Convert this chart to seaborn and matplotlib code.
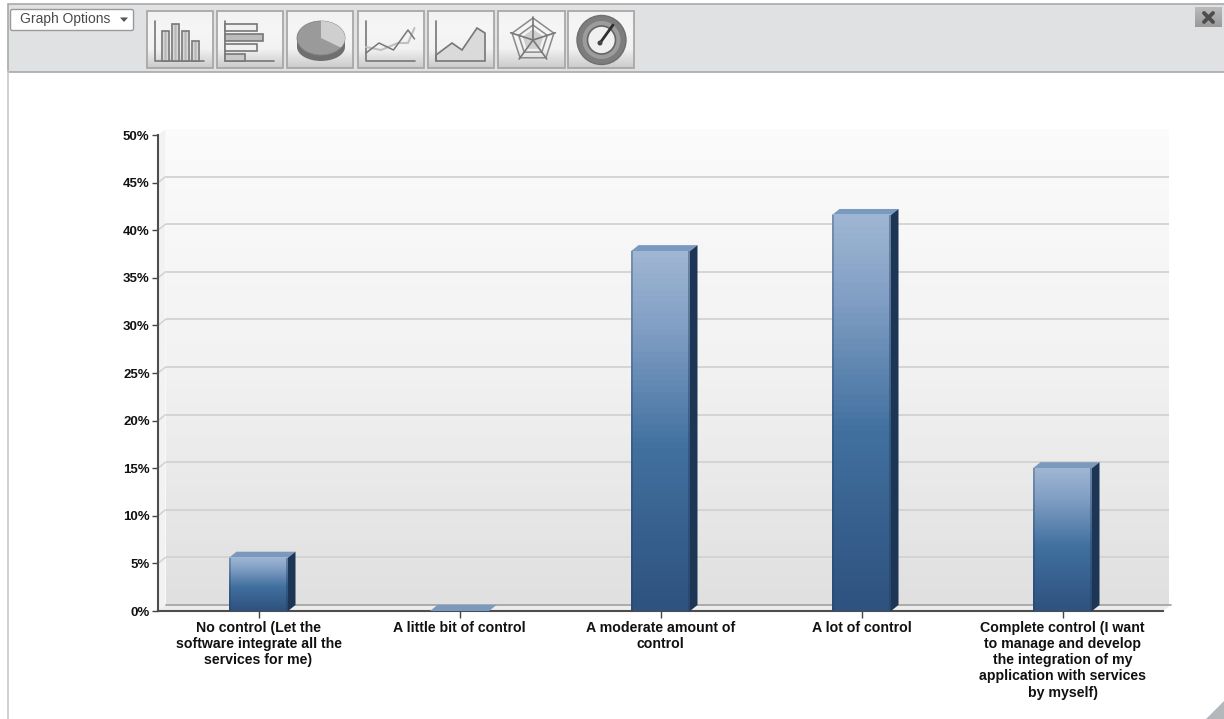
import numpy as np
import pandas as pd
import seaborn as sns
import matplotlib
matplotlib.use("Agg")
import matplotlib.pyplot as plt
from matplotlib.colors import LinearSegmentedColormap
from matplotlib.patches import Polygon, Rectangle, Ellipse, Circle, FancyBboxPatch
from matplotlib.transforms import IdentityTransform

categories = [
    "No control (Let the\nsoftware integrate all the\nservices for me)",
    "A little bit of control",
    "A moderate amount of\ncontrol",
    "A lot of control",
    "Complete control (I want\nto manage and develop\nthe integration of my\napplication with services\nby myself)",
]
percentages = [5.6, 0.0, 37.8, 41.6, 15.0]
y_ticks = [0, 5, 10, 15, 20, 25, 30, 35, 40, 45, 50]

W, H = 1224, 719
DEPTH_X, DEPTH_Y = 7.5, 6

sns.set_theme(style="white")
plt.rcParams["font.family"] = ["Liberation Sans", "DejaVu Sans"]

fig = plt.figure(figsize=(W / 100, H / 100), dpi=100, facecolor="white")


def px_axes(left, top, right, bottom, **kw):
    return fig.add_axes([left / W, 1 - bottom / H, (right - left) / W, (bottom - top) / H], **kw)


# Window chrome, laid out in pixel units
chrome = fig.add_axes([0, 0, 1, 1], zorder=0)
chrome.axis("off")
chrome.add_patch(Rectangle((8, 4), W, 67.5, fc="#e0e1e3", ec="#a9a9a9", lw=1.2))
chrome.plot([8, 8], [71, H], color="#c8c8c8", lw=1.2)
chrome.add_patch(Polygon([(1206, H), (W, 701), (W, H)], fc="#b4b8bb", ec="none"))

chrome.add_patch(FancyBboxPatch((10.5, 9.5), 123, 21, boxstyle="round,pad=0,rounding_size=2",
                                fc="white", ec="#9a9a9a", lw=1))
chrome.text(20, 19.5, "Graph Options", fontsize=10, color="#4a4a4a", va="center", ha="left")
chrome.add_patch(Polygon([(120, 17.5), (128, 17.5), (124, 22)], fc="#555555", ec="none"))

v_gradient = np.linspace(0, 1, 64)[:, None]
h_gradient = np.abs(np.linspace(-1, 1, 32))[None, :]
button_cmap = LinearSegmentedColormap.from_list("btn", ["#f2f2f2", "#f6f6f6", "#f2f2f2", "#cbcbcb"])
button_edges = [(147, 213), (217, 283), (287, 353), (358, 424), (428, 494), (498, 565), (568, 634)]
for x0, x1 in button_edges:
    chrome.imshow(v_gradient, cmap=button_cmap, extent=(x0, x1, 68, 11), aspect="auto", zorder=1)
    chrome.add_patch(Rectangle((x0, 11), x1 - x0, 57, fc="none", ec="#a8a8a8", lw=1.3, zorder=2))

ICON = "#777777"
ICON_KW = dict(color=ICON, lw=1.2, zorder=3)
bar_cmap = LinearSegmentedColormap.from_list("ibar", ["#b5b5b5", "#f2f2f2"])

# Column icon
chrome.plot([155, 155, 204], [21, 61, 61], **ICON_KW)
for x, top in zip([162, 172, 182, 192], [31, 24, 31, 41]):
    chrome.imshow(h_gradient, cmap=bar_cmap, extent=(x, x + 7, 61, top), aspect="auto", zorder=3)
    chrome.add_patch(Rectangle((x, top), 7, 61 - top, fc="none", ec=ICON, lw=1.2, zorder=3))

# Horizontal bar icon
chrome.plot([225, 225, 274], [21, 61, 61], **ICON_KW)
for top, right, shade in zip([24, 34, 44, 54], [257, 263, 257, 245], ["#f0f0f0", "#bcbcbc", "#f0f0f0", "#c9c9c9"]):
    chrome.add_patch(Rectangle((225, top), right - 225, 7, fc=shade, ec=ICON, lw=1.2, zorder=3))

# Pie icon: a thick disc with one light slice on its upper face
chrome.add_patch(Rectangle((297, 38), 48, 9, fc="#6f6f6f", ec="none", zorder=3))
chrome.add_patch(Ellipse((321, 47), 48, 28, fc="#6f6f6f", ec="none", zorder=3))
pie_face = Ellipse((321, 38), 48, 34, fc="#9a9a9a", ec="#858585", lw=0.6, zorder=4)
chrome.add_patch(pie_face)
pie_slice = Polygon([(321, 38), (321, 18), (350, 18), (350, 52)], fc="#cfcfcf", ec="none", zorder=5)
chrome.add_patch(pie_slice)
pie_slice.set_clip_path(pie_face)

# Line icon
chrome.plot([366, 366, 415], [21, 61, 61], **ICON_KW)
chrome.plot([366, 381, 398, 408, 414.5], [47, 50, 43, 43, 28], color="#c0c0c0", lw=1.5, zorder=3)
chrome.plot([366, 379, 393.5, 408, 414.5], [53, 43, 50, 30, 39], color=ICON, lw=1.1, zorder=3)

# Area icon
chrome.add_patch(Polygon([(436, 61), (436, 55), (452, 43), (462, 50), (477, 28), (485, 33), (485, 61)],
                         fc="#dadada", ec=ICON, lw=1.2, zorder=3))
chrome.plot([436, 436], [21, 61], **ICON_KW)

# Radar icon
angles = np.deg2rad(np.array([-90, -18, 54, 126, 198, -90]))
chrome.fill(533 + 10 * np.cos(angles), 40 + 10 * np.sin(angles), color="#cfcfcf", zorder=3)
for r in (15, 22):
    chrome.plot(533 + r * np.cos(angles), 40 + r * np.sin(angles), color="#8a8a8a", lw=1.1, zorder=3)
for a in angles[:-1]:
    chrome.plot([533, 533 + 23.5 * np.cos(a)], [40, 40 + 23.5 * np.sin(a)], color=ICON, lw=1.2, zorder=4)

# Gauge icon
chrome.add_patch(Circle((601.5, 40), 24.5, fc="#7d7d7d", ec="#6f6f6f", lw=1, zorder=3))
chrome.add_patch(Circle((601.5, 40), 19, fc="#9c9c9c", ec="none", zorder=3))
chrome.add_patch(Circle((601.5, 40), 14, fc="#f0f0f0", ec="#666666", lw=1.2, zorder=4))
chrome.plot([600, 613], [43, 25], color="#2e2e2e", lw=2, zorder=5)
chrome.add_patch(Circle((600, 43), 2.5, fc="#444444", ec="none", zorder=5))

# Close button
close_cmap = LinearSegmentedColormap.from_list("cls", ["#bbbbbb", "#999999"])
chrome.imshow(v_gradient, cmap=close_cmap, extent=(1195, 1222, 27, 7), aspect="auto", zorder=1)
chrome.plot([1204, 1213], [13, 22], color="#4d4d4d", lw=2.8, zorder=3)
chrome.plot([1204, 1213], [22, 13], color="#4d4d4d", lw=2.8, zorder=3)
chrome.set_xlim(0, W)
chrome.set_ylim(H, 0)

# Back wall of the 3D plot box, offset up and to the right of the front plane
wall = px_axes(166, 135 - DEPTH_Y, 1169, 611 - DEPTH_Y, zorder=1)
wall_cmap = LinearSegmentedColormap.from_list("wall", ["#fbfbfb", "#f2f2f2", "#e0e0e0"])
wall.imshow(v_gradient, cmap=wall_cmap, extent=(-0.5, 4.5, 0, 50), aspect="auto", zorder=0)
wall.set_xlim(-0.5, 4.5)
wall.set_ylim(0, 50)
wall.set_xticks([])
wall.set_yticks(y_ticks[1:-1])
wall.tick_params(left=False, labelleft=False)
wall.grid(axis="y", color="#d2d2d2", lw=1.3)
wall.set_axisbelow(False)
sns.despine(ax=wall, left=True, bottom=True, top=True, right=True)

# Front plane holding the axes and bars
ax = px_axes(158, 135, 1163, 611, zorder=2)
ax.patch.set_alpha(0)
frame = pd.DataFrame({"label": categories, "share": percentages})
sns.barplot(data=frame, x="label", y="share", ax=ax, width=59 / 201, color="#3f6ca5",
            saturation=1, edgecolor="none", linewidth=0)
ax.set_xlim(-0.5, 4.5)
ax.set_ylim(0, 50)
ax.set_xlabel("")
ax.set_ylabel("")
ax.set_yticks(y_ticks, [f"{v}%" for v in y_ticks])
ax.tick_params(axis="y", length=4, width=1, color="#444444", pad=2, labelsize=9.5, labelcolor="#111111", left=True)
ax.tick_params(axis="x", length=5, width=1, color="#444444", pad=2, labelsize=10.2, labelcolor="#111111", bottom=True)
for label in ax.get_xticklabels() + ax.get_yticklabels():
    label.set_fontweight("bold")
for label in ax.get_xticklabels():
    label.set_linespacing(1.2)
    label.set_ha("center")
sns.despine(ax=ax)
for side in ("left", "bottom"):
    ax.spines[side].set_color("#4d4d4d")
    ax.spines[side].set_linewidth(1.5)


def to_px(x, y):
    return ax.transData.transform((x, y))


def px_poly(points, **kw):
    ax.add_patch(Polygon(points, closed=True, transform=IdentityTransform(), clip_on=False, ec="none", **kw))


fig.canvas.draw()

# Side wall and floor joining the front plane to the back wall
p00, p05 = to_px(-0.5, 0), to_px(-0.5, 50)
p40 = to_px(4.5, 0)
shift = np.array([DEPTH_X, DEPTH_Y])
px_poly([p00, p05, p05 + shift, p00 + shift], fc="#f2f2f2", zorder=0.5)
px_poly([p00, p40, p40 + shift, p00 + shift], fc="#ececec", zorder=0.5)
ax.plot(*zip(p00 + shift, p40 + shift), color="#a6a6a6", lw=1.3, transform=IdentityTransform(),
        clip_on=False, zorder=0.6)
for value in y_ticks[1:-1]:
    front = to_px(-0.5, value)
    ax.plot(*zip(front, front + shift), color="#d2d2d2", lw=1.1, transform=IdentityTransform(),
            clip_on=False, zorder=0.6)

# Shade each bar: vertical gradient on the front face, flat top and dark side
face_cmap = LinearSegmentedColormap.from_list(
    "bar", [(0, "#9fb6d3"), (0.22, "#7f9dc3"), (0.55, "#41709f"), (1, "#2f527f")])
side_cmap = LinearSegmentedColormap.from_list("side", ["#1f3a5c", "#1b3350"])
for bar in list(ax.patches):
    if not isinstance(bar, matplotlib.patches.Rectangle):
        continue
    x0, x1 = bar.get_x(), bar.get_x() + bar.get_width()
    top = bar.get_height()
    a, b = to_px(x0, top), to_px(x1, top)
    c, d = to_px(x1, 0), to_px(x0, 0)
    px_poly([a, b, b + shift, a + shift], fc="#7a99bf", zorder=3)
    if top > 0:
        ax.imshow(v_gradient, cmap=face_cmap, extent=(x0, x1, 0, top), aspect="auto", zorder=3)
        px_poly([b, c, c + shift, b + shift], fc=side_cmap(0.5), zorder=3)
        # Slightly darkened vertical edges on the face
        edge = np.array([2, 0])
        px_poly([a, a + edge, d + edge, d], fc="#1f3a5c", alpha=0.3, zorder=3.5)
        px_poly([b - edge, b, c, c - edge], fc="#1f3a5c", alpha=0.4, zorder=3.5)
ax.set_xlim(-0.5, 4.5)
ax.set_ylim(0, 50)

fig.savefig("out.png", dpi=100, facecolor="white")
